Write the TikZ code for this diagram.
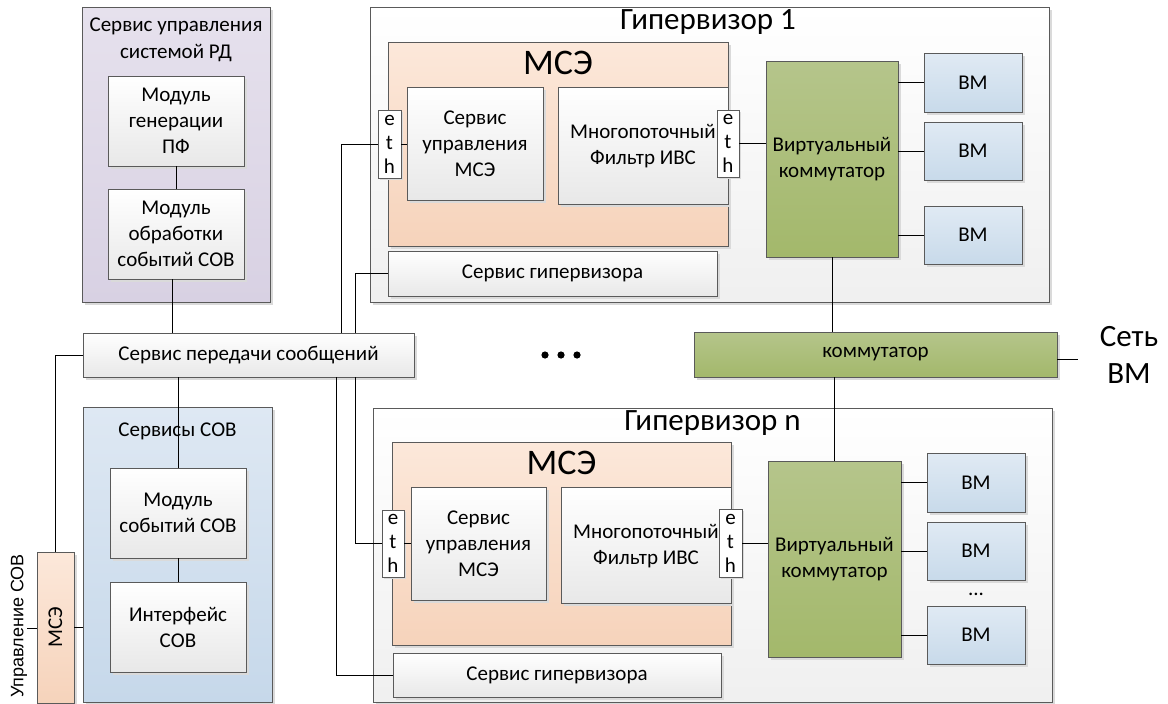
\documentclass[tikz,border=0pt]{standalone}
\usepackage{fontspec}
\setmainfont{Carlito}
\newfontfamily\arialf{Liberation Sans}
\usetikzlibrary{shadows}
\definecolor{bordc}{HTML}{5A5A5A}
\definecolor{purpT}{HTML}{E6E1ED}\definecolor{purpB}{HTML}{D8D1E3}
\definecolor{blueT}{HTML}{DEE8F3}\definecolor{blueB}{HTML}{C6D8EA}
\definecolor{orT}{HTML}{FCE8DA}\definecolor{orB}{HTML}{F6D3BB}
\definecolor{grT}{HTML}{B5C58B}\definecolor{grB}{HTML}{A3B86B}
\definecolor{vmT}{HTML}{E0EAF4}\definecolor{vmB}{HTML}{C8DAEA}
\definecolor{shad}{HTML}{DADADA}
\tikzset{
  base/.style={draw=bordc, line width=0.9pt, inner sep=0pt, align=center,
    font=\fontsize{21}{26}\selectfont,
    drop shadow={shadow xshift=3pt, shadow yshift=-3pt, fill=shad, opacity=1}},
  wbox/.style={base, top color=white, bottom color=black!9},
  hypbox/.style={base, top color=white, bottom color=black!6},
  purpbox/.style={base, top color=purpT, bottom color=purpB},
  bluebox/.style={base, top color=blueT, bottom color=blueB},
  orbox/.style={base, top color=orT, bottom color=orB},
  grbox/.style={base, top color=grT, bottom color=grB},
  vmbox/.style={base, top color=vmT, bottom color=vmB},
  ethbox/.style={draw=bordc, line width=0.9pt, fill=white, inner sep=0pt, align=center,
    font=\fontsize{21}{24}\selectfont,
    drop shadow={shadow xshift=2pt, shadow yshift=-2pt, fill=shad, opacity=1}},
  ttl/.style={inner sep=0pt, align=center, font=\fontsize{21}{26.5}\selectfont},
  bigttl/.style={inner sep=0pt, align=center, font=\fontsize{31}{37}\selectfont},
  msettl/.style={inner sep=0pt, align=center, font=\fontsize{36}{40}\selectfont},
  conn/.style={draw=black, line width=0.9pt},
}
\begin{document}
\begin{tikzpicture}[x=1pt,y=-1pt]
\useasboundingbox[fill=white] (0,0) rectangle (1168,704);

% ---- left column
\node[purpbox, minimum width=188pt, minimum height=295pt] (srd) at (176,154.5) {};
\node[ttl] (srdt) at (176,40) {Сервис управления\\системой РД};
\node[wbox, minimum width=136pt, minimum height=90pt] (pf) at (176,121) {Модуль\\генерации\\ПФ};
\node[wbox, minimum width=136pt, minimum height=90pt] (obr) at (176,234) {Модуль\\обработки\\событий СОВ};

\node[wbox, minimum width=331pt, minimum height=44pt] (msg) at (248.5,355) {Сервис передачи сообщений};

\node[bluebox, minimum width=189pt, minimum height=295pt] (sov) at (177.5,554.5) {};
\node[ttl] (sovt) at (177.5,431) {Сервисы СОВ};
\node[wbox, minimum width=136pt, minimum height=90pt] (modsov) at (178,513) {Модуль\\событий СОВ};
\node[wbox, minimum width=136pt, minimum height=90pt] (ifsov) at (178,627) {Интерфейс\\СОВ};

\node[orbox, minimum width=37pt, minimum height=151pt] (msesm) at (55.5,627.5) {};
\node[ttl, rotate=90] (msesmt) at (55.5,627.5) {МСЭ};
\node[inner sep=0pt, rotate=90, font=\arialf\fontsize{18}{22}\selectfont] (upr) at (19,626) {Управление СОВ};
\coordinate (uprl) at (27,628);

% ---- hypervisor 1
\node[hypbox, minimum width=679pt, minimum height=295pt] (hyp1) at (709.5,154.5) {};
\node[bigttl] (hyp1t) at (708,22) {Гипервизор 1};
\node[orbox, minimum width=340pt, minimum height=204pt] (mse1) at (558,144) {};
\node[msettl] (mse1t) at (558,63) {МСЭ};
\node[wbox, minimum width=136pt, minimum height=113pt] (sum1) at (475,143.5) {Сервис\\управления\\МСЭ};
\node[wbox, minimum width=170pt, minimum height=117pt] (filt1) at (643,145.5) {};
\node[ttl] (filt1t) at (643,146) {Многопоточный\\Фильтр ИВС};
\node[ethbox, minimum width=23pt, minimum height=68pt] (ethL1) at (389.5,144) {e\\t\\h};
\node[ethbox, minimum width=22pt, minimum height=67pt] (ethR1) at (728,143.5) {e\\t\\h};
\node[wbox, minimum width=329pt, minimum height=45pt] (hs1) at (552.5,273.5) {Сервис гипервизора};
\node[grbox, minimum width=132pt, minimum height=196pt] (vs1) at (832,159) {Виртуальный\\коммутатор};
\node[vmbox, minimum width=98pt, minimum height=59pt] (vm1a) at (973,82.5) {ВМ};
\node[vmbox, minimum width=98pt, minimum height=58pt] (vm1b) at (973,151) {ВМ};
\node[vmbox, minimum width=98pt, minimum height=58pt] (vm1c) at (973,235) {ВМ};

% ---- switch
\node[grbox, minimum width=363pt, minimum height=45pt] (kom) at (875.5,354.5) {коммутатор};
\node[bigttl] (net) at (1129,355) {Сеть\\ВМ};
\coordinate (netl) at (1078,359);
\fill (545,355) circle (3.6pt) (561,355) circle (3.6pt) (577,355) circle (3.6pt);

% ---- hypervisor n
\node[hypbox, minimum width=679pt, minimum height=294pt] (hypn) at (712.5,555) {};
\node[bigttl] (hypnt) at (712.5,423) {Гипервизор n};
\node[orbox, minimum width=339pt, minimum height=203pt] (msen) at (561.5,543.5) {};
\node[msettl] (msent) at (561.5,463) {МСЭ};
\node[wbox, minimum width=135pt, minimum height=113pt] (sumn) at (478.5,543.5) {Сервис\\управления\\МСЭ};
\node[wbox, minimum width=170pt, minimum height=116pt] (filtn) at (646,545) {};
\node[ttl] (filtnt) at (646,546) {Многопоточный\\Фильтр ИВС};
\node[ethbox, minimum width=22pt, minimum height=67pt] (ethLn) at (393,543.5) {e\\t\\h};
\node[ethbox, minimum width=23pt, minimum height=68pt] (ethRn) at (730.5,543) {e\\t\\h};
\node[wbox, minimum width=328pt, minimum height=44pt] (hsn) at (557,675) {Сервис гипервизора};
\node[grbox, minimum width=133pt, minimum height=196pt] (vsn) at (834.5,559) {Виртуальный\\коммутатор};
\node[vmbox, minimum width=98pt, minimum height=59pt] (vmna) at (976,482.5) {ВМ};
\node[vmbox, minimum width=98pt, minimum height=58pt] (vmnb) at (976,551) {ВМ};
\node[vmbox, minimum width=98pt, minimum height=58pt] (vmnc) at (976,635) {ВМ};
\node[ttl] (vmdots) at (976,594) {...};

% ---- helper x positions
\coordinate (xa) at (341,0);
\coordinate (xb) at (355,0);
\coordinate (xc) at (336,0);
\coordinate (xd) at (172,0);

% ---- connectors
\draw[conn] (pf.south) -- (obr.north);
\draw[conn] (xd |- obr.south) -- (xd |- msg.north);
\draw[conn] (msg.west) -| (msesm.north);
\draw[conn] (modsov.north |- msg.south) -- (modsov.north);
\draw[conn] (modsov.south) -- (ifsov.north);
\draw[conn] (msesm.east) -- (msesm.east -| sov.west);
\draw[conn] (uprl) -- (uprl -| msesm.west);

\draw[conn] (ethL1.west) -| (xa |- msg.north);
\draw[conn] (hs1.west) -| (xb |- msg.north);
\draw[conn] (ethL1.east) -- (ethL1.east -| sum1.west);
\draw[conn] (ethR1.east) -- (ethR1.east -| vs1.west);
\draw[conn] (vm1a.west -| vs1.east) -- (vm1a.west);
\draw[conn] (vm1b.west -| vs1.east) -- (vm1b.west);
\draw[conn] (vm1c.west -| vs1.east) -- (vm1c.west);
\draw[conn] (vs1.south) -- (vs1.south |- kom.north);
\draw[conn] (vsn.north |- kom.south) -- (vsn.north);
\draw[conn] (kom.east |- netl) -- (netl);

\draw[conn] (xb |- msg.south) |- (ethLn.west);
\draw[conn] (xc |- msg.south) |- (hsn.west);
\draw[conn] (ethLn.east) -- (ethLn.east -| sumn.west);
\draw[conn] (ethRn.east) -- (ethRn.east -| vsn.west);
\draw[conn] (vmna.west -| vsn.east) -- (vmna.west);
\draw[conn] (vmnb.west -| vsn.east) -- (vmnb.west);
\draw[conn] (vmnc.west -| vsn.east) -- (vmnc.west);
\end{tikzpicture}
\end{document}
